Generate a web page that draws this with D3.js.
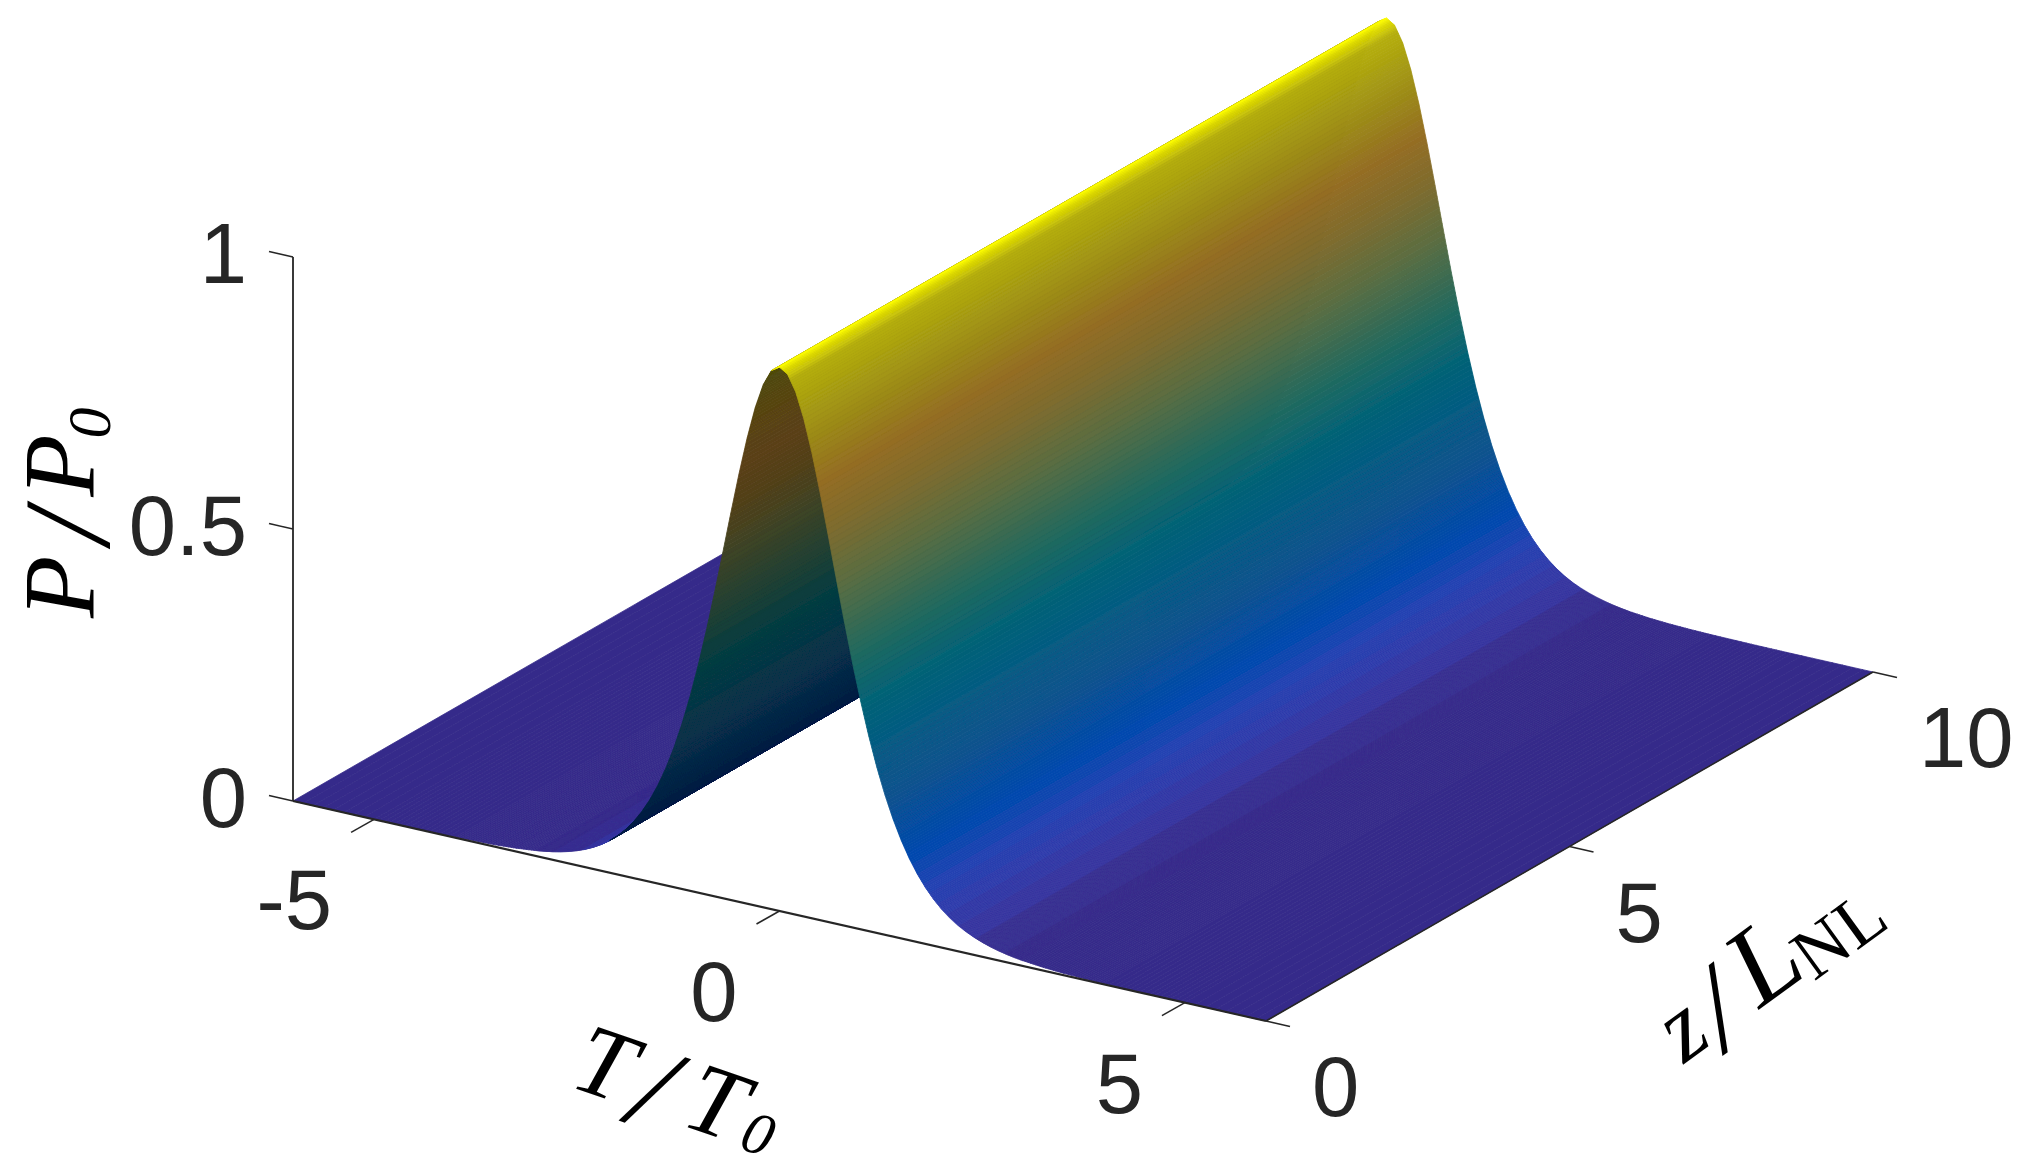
<!DOCTYPE html>
<html><head><meta charset="utf-8">
<script src="https://cdn.jsdelivr.net/npm/d3@7/dist/d3.min.js"></script>
<style>html,body{margin:0;background:#fff}svg{display:block}</style></head>
<body><svg id="c" width="2026" height="1173"></svg>
<script>
// ---- data ----
const timeGrid = [-6,-5,-4.5,-4,-3.75,-3.5,-3.25,-3,-2.9,-2.8,-2.7,-2.6,-2.5,-2.4,-2.3,-2.2,-2.1,-2,-1.9,-1.8,-1.7,-1.6,-1.5,-1.4,-1.3,-1.2,-1.1,-1,-0.9,-0.8,-0.7,-0.6,-0.5,-0.4,-0.3,-0.2,-0.1,0,0.1,0.2,0.3,0.4,0.5,0.6,0.7,0.8,0.9,1,1.1,1.2,1.3,1.4,1.5,1.6,1.7,1.8,1.9,2,2.1,2.2,2.3,2.4,2.5,2.6,2.7,2.8,2.9,3,3.25,3.5,3.75,4,4.5,5,6];
const power = [0.00002,0.00018,0.00049,0.00134,0.00221,0.00364,0.0060,0.00987,0.01204,0.01468,0.01791,0.02182,0.02659,0.03238,0.03941,0.04792,0.05822,0.07065,0.08561,0.10356,0.12501,0.15053,0.18071,0.21615,0.25743,0.30502,0.3592,0.41997,0.48692,0.55906,0.63474,0.71158,0.78645,0.85564,0.91514,0.96104,0.99007,1,0.99007,0.96104,0.91514,0.85564,0.78645,0.71158,0.63474,0.55906,0.48692,0.41997,0.3592,0.30502,0.25743,0.21615,0.18071,0.15053,0.12501,0.10356,0.08561,0.07065,0.05822,0.04792,0.03941,0.03238,0.02659,0.02182,0.01791,0.01468,0.01204,0.00987,0.0060,0.00364,0.00221,0.00134,0.00049,0.00018,0.00002];
const zDomain = [0,10];
const timeDomain = [-6,6];
const powerDomain = [0,1];
const timeTicks = [-5,0,5];
const zTicks = [0,5,10];
const powerTicks = [0,0.5,1];
const powerTickLabels = ["0","0.5","1"];
const colorLevels = [0,0.02,0.04,0.07,0.1,0.15,0.25,0.35,0.42,0.5,0.62,0.72,0.8,0.88,0.94,0.98,0.994,1];
const frontColors = ["#352a87","#372d8e","#3635a0","#2e3cac","#2442b2","#0448ae","#0a528e","#065c80","#056374","#226a5e","#5a6d42","#7f6c2e","#946d24","#9c8a18","#a9a012","#b5ae0e","#dcd806","#ffff00"];
const backColors  = ["#101650","#0e1650","#081a4c","#041c48","#031e44","#042444","#083048","#063844","#063d40","#1e4034","#3c4426","#503f18","#5a3f15","#584312","#52460c","#4c4708","#4a4606","#484606"];

// ---- projection (orthographic view) ----
const ox = 293, oy = 801;
const tX = d3.scaleLinear().domain(timeDomain).range([0,973]);
const tY = d3.scaleLinear().domain(timeDomain).range([0,220]);
const zX = d3.scaleLinear().domain(zDomain).range([0,607]);
const zY = d3.scaleLinear().domain(zDomain).range([0,-349]);
const pY = d3.scaleLinear().domain(powerDomain).range([0,-544]);
const proj = (t,z,p) => [ox+tX(t)+zX(z), oy+tY(t)+zY(z)+pY(p)];

const front = d3.scaleLinear().domain(colorLevels).range(frontColors).interpolate(d3.interpolateRgb);
const back  = d3.scaleLinear().domain(colorLevels).range(backColors).interpolate(d3.interpolateRgb);
const quant = p => p < 0.16 ? (Math.floor(p*64)+0.5)/64 : p;

const svg = d3.select("#c");
const axisColor = "#262626";
const defs = svg.append("defs");
defs.append("filter").attr("id","soft").attr("filterUnits","userSpaceOnUse")
  .attr("x",0).attr("y",0).attr("width",2026).attr("height",1173)
  .append("feGaussianBlur").attr("stdDeviation",0.75);
const root = svg.append("g").attr("filter","url(#soft)");

// ---- surface strips, far to near ----
const strips = [];
const sub = 8;
for (let i=0;i<timeGrid.length-1;i++){
  const it = d3.interpolateNumber(timeGrid[i],timeGrid[i+1]);
  const ip = d3.interpolateNumber(power[i],power[i+1]);
  for (let k=0;k<sub;k++){
    strips.push({t0:it(k/sub),t1:it((k+1)/sub),p0:ip(k/sub),p1:ip((k+1)/sub)});
  }
}
const line = d3.line();
const [zA,zB] = zDomain;
const dirZ = [proj(0,zB,0)[0]-proj(0,zA,0)[0], proj(0,zB,0)[1]-proj(0,zA,0)[1]];
root.append("g").attr("class","surface").selectAll("path").data(strips).join("path")
  .each(function(d){
    const a=proj(d.t0,zA,d.p0), b=proj(d.t1,zA,d.p1), c=proj(d.t1,zB,d.p1), e=proj(d.t0,zB,d.p0);
    const cross=(b[0]-a[0])*dirZ[1]-(b[1]-a[1])*dirZ[0];
    const col=(cross<0?front:back)(quant((d.p0+d.p1)/2));
    d3.select(this).attr("d",line([a,b,c,e])+"Z").attr("fill",col).attr("stroke",col).attr("stroke-width",0.8);
  });

// ---- axes ----
const ax = root.append("g").attr("stroke",axisColor).attr("fill","none");
const seg=(p,q,w)=>ax.append("line").attr("x1",p[0]).attr("y1",p[1]).attr("x2",q[0]).attr("y2",q[1]).attr("stroke-width",w);
seg(proj(-6,0,0),proj(6,0,0),2.2);
seg(proj(6,0,0),proj(6,10,0),1.5);
seg(proj(-6,0,0),proj(-6,0,1),1.8);
timeTicks.forEach(t=>seg(proj(t,0,0),[proj(t,0,0)[0]-23,proj(t,0,0)[1]+13],1.5));
zTicks.forEach(z=>seg(proj(6,z,0),[proj(6,z,0)[0]+24,proj(6,z,0)[1]+5.4],1.5));
powerTicks.forEach(p=>seg(proj(-6,0,p),[proj(-6,0,p)[0]-24,proj(-6,0,p)[1]-5.4],1.5));

// ---- tick labels ----
const labels = root.append("g").attr("font-family","'Liberation Sans',Arial,sans-serif").attr("font-size",85).attr("fill",axisColor);
labels.selectAll(".tt").data(timeTicks).join("text").attr("class","tt").attr("text-anchor","end")
  .attr("x",d=>proj(d,0,0)[0]-42).attr("y",d=>proj(d,0,0)[1]+110).text(d=>d);
labels.selectAll(".zt").data(zTicks).join("text").attr("class","zt").attr("text-anchor","start")
  .attr("x",d=>proj(6,d,0)[0]+46).attr("y",d=>proj(6,d,0)[1]+95).text(d=>d);
labels.selectAll(".pt").data(powerTicks).join("text").attr("class","pt").attr("text-anchor","end")
  .attr("x",d=>proj(-6,0,d)[0]-46).attr("y",d=>proj(-6,0,d)[1]+26).text((d,i)=>powerTickLabels[i]);

// ---- axis titles ----
function title(x,y,rot,size,parts){
  const t=root.append("text").attr("transform",`translate(${x},${y}) rotate(${rot})`)
    .attr("font-family","'Liberation Serif',serif").attr("font-size",size).attr("fill","#000");
  parts.forEach(p=>t.append("tspan").text(p.s).attr("dx",p.dx||0).attr("dy",p.dy||0)
    .attr("font-style",p.up?"normal":"italic").attr("font-size",p.size||size));
}
title(94,618,-90,102,[{s:"P"},{s:"/",dx:12,dy:15,size:122},{s:"P",dx:13,dy:-15},{s:"0",dx:-4,dy:16,size:62}]);
title(568,1086,19,100,[{s:"T"},{s:"/",dx:9,dy:15,size:122}]);
title(679.6,1124.4,19,100,[{s:"T"}]);
title(735.5,1147,19,60,[{s:"0",dx:2}]);
title(1684,1064,-36,96,[{s:"z"},{s:"/",dx:4,dy:15,size:122},{s:"L",dx:18,dy:-15,size:112},{s:"NL",dy:10,size:72,up:true,dx:-2}]);
</script></body></html>
